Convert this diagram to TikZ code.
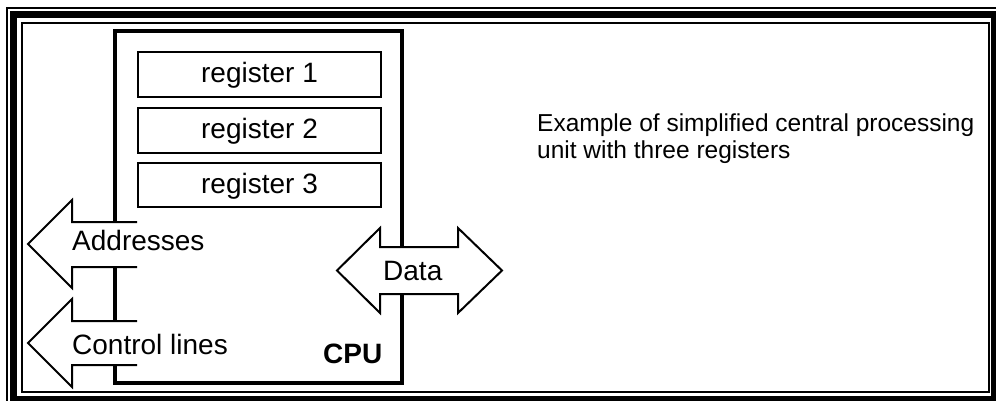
\documentclass[tikz,border=0pt]{standalone}
\usepackage{fontspec}
\setmainfont{Liberation Sans}
\begin{document}
\begin{tikzpicture}[x=1pt,y=-1pt,
  lbl/.style={inner sep=0pt, anchor=base west, font=\fontsize{28}{34}\selectfont},
  regbox/.style={draw, line width=2.4pt, minimum width=243pt, minimum height=45pt,
     inner sep=0pt, text height=20pt, text depth=3pt, font=\fontsize{28}{34}\selectfont},
  cpuline/.style={line width=3.5pt, line cap=butt, line join=miter},
  busarrow/.style={line width=2pt, line join=miter},
  frameline/.style={line width=#1}]
\useasboundingbox (0,0) rectangle (996,401);
\clip (0,0) rectangle (996,401);
\fill[white] (0,0) rectangle (996,401);
% frame
\draw[frameline=1.5pt] (7,8) rectangle (1003,407);
\draw[frameline=7pt] (13.5,14.5) rectangle (994.5,399.5);
\draw[frameline=2pt] (22,23) rectangle (988.5,392);
% CPU outline (interrupted by buses)
\coordinate (cpuTL) at (115,31);
\coordinate (cpuTR) at (402,31);
\coordinate (cpuBL) at (115,383);
\coordinate (cpuBR) at (402,383);
\draw[cpuline] (115,222) -- (cpuTL) -- (cpuTR) -- (402,247);
\draw[cpuline] (402,294) -- (cpuBR) -- (cpuBL) -- (115,365);
\draw[cpuline] (115,267) -- (115,321);
% registers
\node[regbox] (r1) at (259.5,74.5) {register 1};
\node[regbox] (r2) at (259.5,130.5) {register 2};
\node[regbox, minimum height=44pt] (r3) at (259.5,185) {register 3};
% address bus
\draw[busarrow] (137,222) -- (72,222) -- (72,200) -- (28,244) -- (72,288) -- (72,267) -- (137,267);
\node[lbl] (addr) at (72,250) {Addresses};
% control bus
\draw[busarrow] (137,321) -- (72,321) -- (72,299) -- (28,343) -- (72,387) -- (72,365) -- (137,365);
\node[lbl] (ctrl) at (72,354) {Control lines};
% data bus
\draw[busarrow] (380,247) -- (380,228) -- (337,270.5) -- (380,313) -- (380,294)
   -- (458,294) -- (458,313) -- (502,270.5) -- (458,228) -- (458,247) -- cycle;
\node[lbl] (data) at (383,280) {Data};
% CPU label
\node[lbl, font=\fontsize{28}{34}\selectfont\bfseries] (cpu) at (323,363) {CPU};
% caption
\node[inner sep=0pt, anchor=base west, align=left, font=\fontsize{24.5}{27}\selectfont] (cap) at (537,158)
  {Example of simplified central processing\\unit with three registers};
\end{tikzpicture}
\end{document}
